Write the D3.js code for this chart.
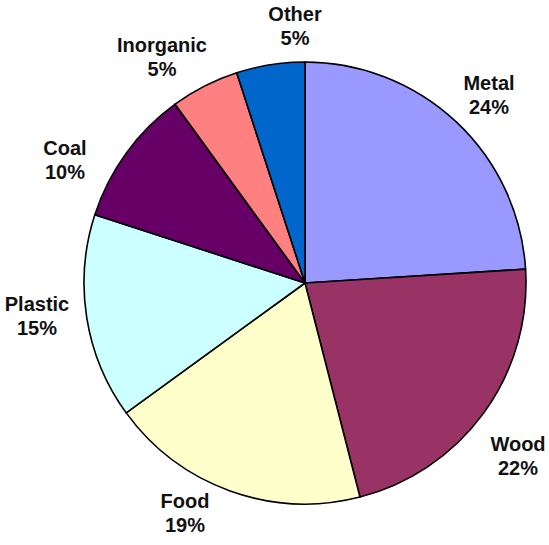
<!DOCTYPE html>
<html>
<head>
<meta charset="utf-8">
<script src="https://cdn.jsdelivr.net/npm/d3@7"></script>
<style>
  html, body { margin: 0; padding: 0; background: #ffffff; }
  svg { display: block; }
</style>
</head>
<body>
<svg id="chart" width="549" height="545"></svg>
<script>
// Waste composition by material (percent of total)
const categories = ["Metal", "Wood", "Food", "Plastic", "Coal", "Inorganic", "Other"];
const shares = [24, 22, 19, 15, 10, 5, 5];
const colors = ["#9999FF", "#993366", "#FFFFCC", "#CCFFFF", "#660066", "#FF8080", "#0066CC"];

// Label anchor points (centre x, first-line baseline y), one per category
const labelAnchors = [[489, 90], [518, 451], [185, 508], [37, 311], [65, 155], [162, 52], [295, 21]];

const width = 549, height = 545;
const cx = 305, cy = 283, radius = 221;

const svg = d3.select("#chart");
const g = svg.append("g").attr("transform", `translate(${cx},${cy})`);

const pie = d3.pie().sort(null).value(d => d.value);
const arc = d3.arc().innerRadius(0).outerRadius(radius);

const data = categories.map((c, i) => ({ name: c, value: shares[i], color: colors[i] }));
const arcs = pie(data);

g.selectAll("path.slice")
  .data(arcs)
  .join("path")
  .attr("class", "slice")
  .attr("d", arc)
  .attr("fill", d => d.data.color)
  .attr("stroke", "#000")
  .attr("stroke-width", 1.6)
  .attr("stroke-linejoin", "round");

const labels = svg.selectAll("text.label")
  .data(arcs)
  .join("text")
  .attr("class", "label")
  .attr("text-anchor", "middle")
  .attr("font-family", "'Liberation Sans', Arial, sans-serif")
  .attr("font-weight", "bold")
  .attr("font-size", 20)
  .attr("fill", "#111");

labels.each(function (d, i) {
  const [x, y] = labelAnchors[i];
  const t = d3.select(this);
  t.append("tspan").attr("x", x).attr("y", y).text(d.data.name);
  t.append("tspan").attr("x", x).attr("y", y + 24).text(d3.format("d")(d.data.value) + "%");
});
</script>
</body>
</html>
